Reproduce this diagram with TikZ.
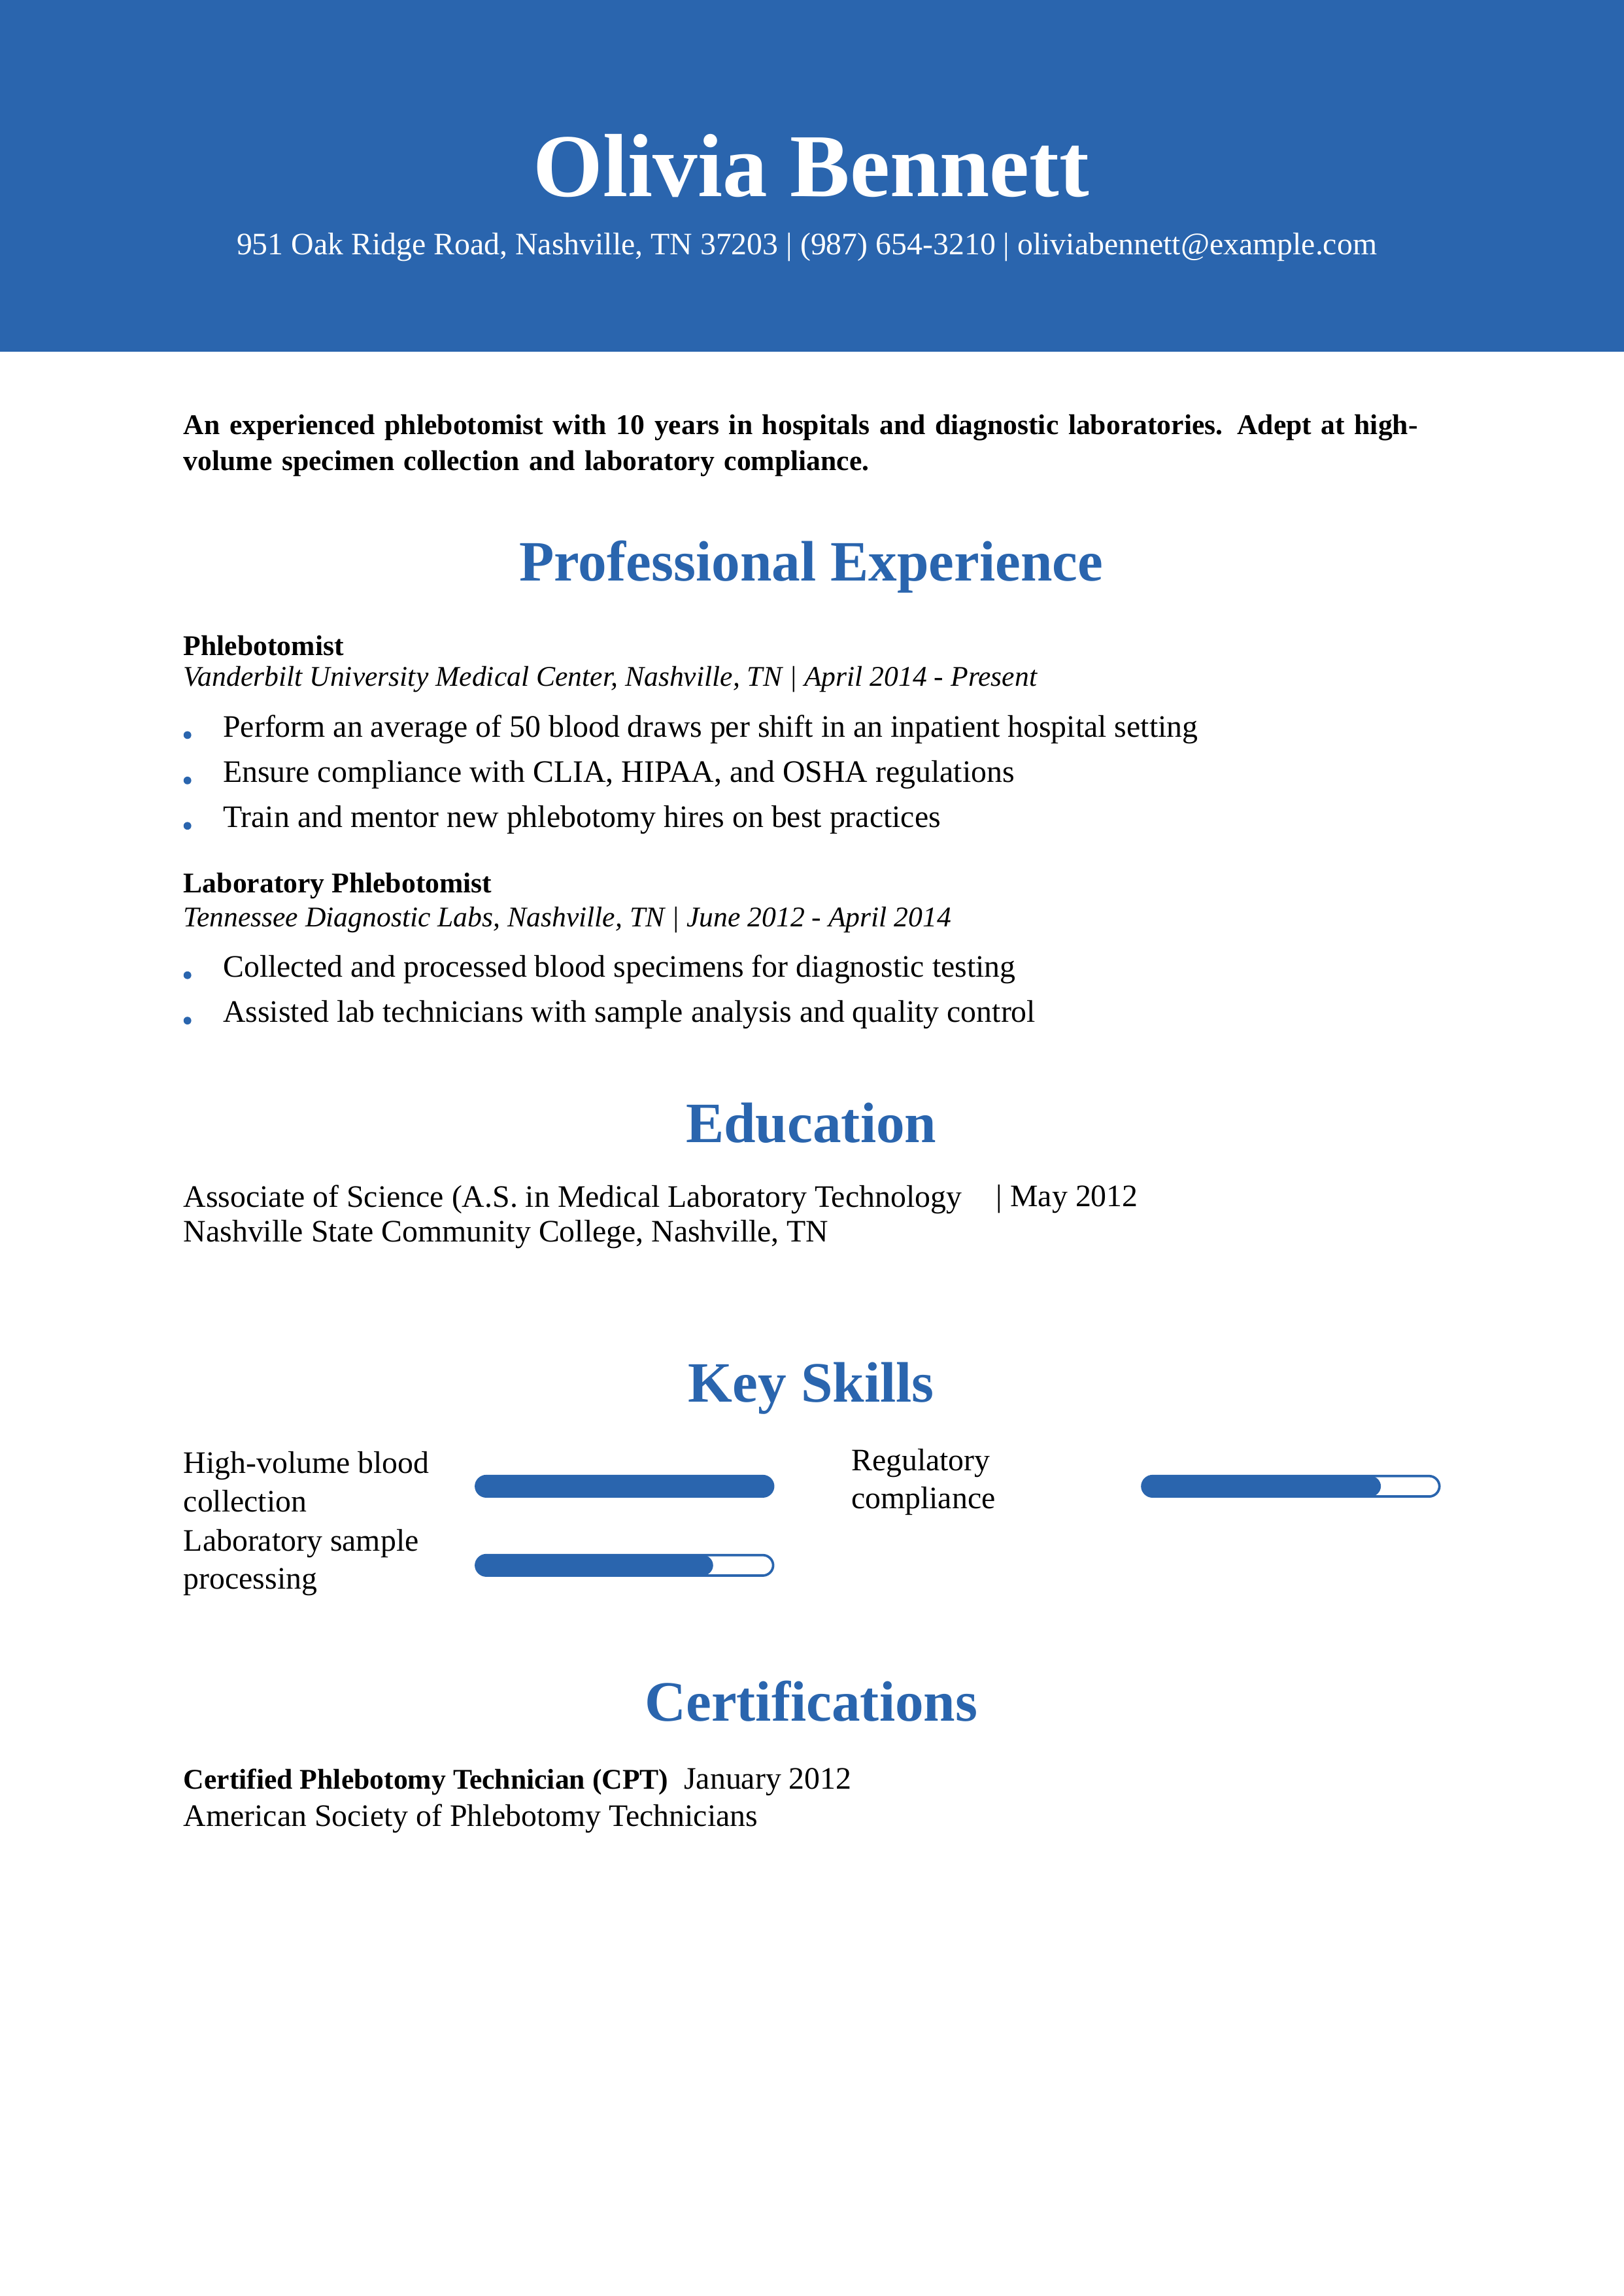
\documentclass[tikz,border=0pt]{standalone}
\usepackage{fontspec}
\setmainfont{Liberation Serif}
\usetikzlibrary{positioning}
\definecolor{cvblue}{HTML}{2A65AE}

\begin{document}
\begin{tikzpicture}[%
    x=0.18936mm, y=-0.18936mm,   % work in reference pixels
    ]
% -------------------------------------------------
% Styles for the page parts
\tikzset{
  body/.style={anchor=west, inner sep=0pt, font=\fontsize{11.5}{14}\selectfont},
  head/.style={anchor=center, inner sep=0pt, text=cvblue, font=\fontsize{21}{24}\bfseries},
  jobtitle/.style={body, font=\fontsize{10.5}{13}\bfseries},
  jobplace/.style={body, font=\fontsize{10.5}{13}\itshape},
  dot/.style={circle, fill=cvblue, inner sep=0pt, minimum size=1mm},
  skill/.style={body, align=left},
  barframe/.style={draw=cvblue, line width=0.9pt, rounded corners=1.35mm}
}
\useasboundingbox (0,0) rectangle (1109,1568);
% -------------------------------------------------
% Header band
\fill[cvblue] (0,0) rectangle (1109,240);
\node[text=white, font=\fontsize{33}{36}\bfseries] (name) at (554,113) {Olivia Bennett};
\node[text=white, font=\fontsize{11.5}{14}\selectfont] (contact) at (551,169)
  {951 Oak Ridge Road, Nashville, TN 37203 | (987) 654-3210 | oliviabennett@example.com};
% Summary
\node[body, font=\fontsize{10.5}{13}\bfseries, text width=166mm, anchor=north west] (summary) at (125,283)
  {An experienced phlebotomist with 10 years in hospitals and diagnostic laboratories. Adept at high-volume specimen collection and laboratory compliance.};
% -------------------------------------------------
% Experience
\node[head] (hexp) at (554,387) {Professional Experience};
\node[jobtitle] (job1) at (125,441) {Phlebotomist};
\node[jobplace] (place1) at (125,464) {Vanderbilt University Medical Center, Nashville, TN | April 2014 - Present};
\foreach \y/\t in {498/Perform an average of 50 blood draws per shift in an inpatient hospital setting,
                   529/{Ensure compliance with CLIA, HIPAA, and OSHA regulations},
                   560/Train and mentor new phlebotomy hires on best practices}{
  \node[dot] (b1-\y) at (128,\y+4) {};
  \node[body] (t1-\y) at (152,\y) {\t};
}
\node[jobtitle] (job2) at (125,605) {Laboratory Phlebotomist};
\node[jobplace] (place2) at (125,628) {Tennessee Diagnostic Labs, Nashville, TN | June 2012 - April 2014};
\foreach \y/\t in {662/Collected and processed blood specimens for diagnostic testing,
                   693/Assisted lab technicians with sample analysis and quality control}{
  \node[dot] (b2-\y) at (128,\y+4) {};
  \node[body] (t2-\y) at (152,\y) {\t};
}
% -------------------------------------------------
% Education
\node[head] (hedu) at (554,767) {Education};
\node[body] (degree) at (125,819) {Associate of Science (A.S. in Medical Laboratory Technology};
\node[body] (degdate) at (680,819) {| May 2012};
\node[body] (school) at (125,843) {Nashville State Community College, Nashville, TN};
% -------------------------------------------------
% Skills
\node[head] (hskill) at (554,948) {Key Skills};
\node[skill] (s1) at (125,1012) {High-volume blood\\collection};
\node[skill] (s2) at (581,1012) {Regulatory\\compliance};
\node[skill] (s3) at (125,1067) {Laboratory sample\\processing};
\foreach \x/\y/\f in {325/1015/528, 780/1015/943, 325/1069/487}{
  \fill[cvblue, rounded corners=1.35mm] (\x,\y-7) rectangle (\f,\y+7);
  \draw[barframe] (\x,\y-7) rectangle (\x+203,\y+7);
}
% -------------------------------------------------
% Certifications
\node[head] (hcert) at (554,1162) {Certifications};
\node[body] (cert) at (125,1217) {\textbf{\fontsize{10.5}{13}\selectfont Certified Phlebotomy Technician (CPT)}\enspace January 2012};
\node[body] (issuer) at (125,1242) {American Society of Phlebotomy Technicians};
\end{tikzpicture}
\end{document}
